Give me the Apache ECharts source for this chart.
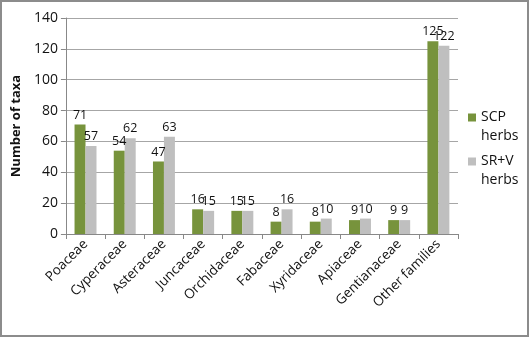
<!DOCTYPE html>
<html>
<head>
<meta charset="utf-8">
<script src="https://cdn.jsdelivr.net/npm/echarts@6/dist/echarts.min.js"></script>
<style>
  html, body { margin: 0; padding: 0; background: #fff; }
  #main { width: 525px; height: 333px; border: 2px solid #8c8c8c; }
</style>
</head>
<body>
<div id="main"></div>
<script>
var families = ['Poaceae', 'Cyperaceae', 'Asteraceae', 'Juncaceae', 'Orchidaceae',
  'Fabaceae', 'Xyridaceae', 'Apiaceae', 'Gentianaceae', 'Other families'];
var scpHerbs = [71, 54, 47, 16, 15, 8, 8, 9, 9, 125];
var srvHerbs = [57, 62, 63, 15, 15, 16, 10, 10, 9, 122];

var myChart = echarts.init(document.getElementById('main'));

var fontFam = '"Open Sans", "Noto Sans", sans-serif';

var option = {
  animation: false,
  backgroundColor: '#fff',
  grid: { left: 60, right: 69, top: 16, bottom: 101 },
  legend: {
    orient: 'vertical',
    left: 461,
    top: 82,
    itemWidth: 8,
    itemHeight: 8,
    itemGap: -13,
    icon: 'rect',
    textStyle: { fontFamily: fontFam, fontSize: 14, color: '#111', lineHeight: 19 },
    // leading blank line keeps the square level with the first text line
    formatter: function (name) { return '\n' + name.replace(' ', '\n'); },
    data: ['SCP herbs', 'SR+V herbs']
  },
  xAxis: {
    type: 'category',
    data: families,
    axisLine: { lineStyle: { color: '#888' } },
    axisTick: { show: true, lineStyle: { color: '#888' } },
    axisLabel: { rotate: 45, interval: 0, fontFamily: fontFam, fontSize: 13.5, color: '#111', margin: 8 }
  },
  yAxis: {
    type: 'value',
    min: 0,
    max: 140,
    interval: 20,
    name: 'Number of taxa',
    nameLocation: 'middle',
    nameGap: 40,
    nameTextStyle: { fontFamily: fontFam, fontSize: 13, fontWeight: 'bold', color: '#111' },
    axisLine: { show: true, lineStyle: { color: '#888' } },
    axisTick: { show: true, lineStyle: { color: '#888' } },
    axisLabel: { fontFamily: fontFam, fontSize: 14, color: '#111' },
    splitLine: { lineStyle: { color: '#a6a6a6' } }
  },
  series: [
    {
      name: 'SCP herbs',
      type: 'bar',
      data: scpHerbs,
      itemStyle: { color: '#77933C' },
      barGap: '0%',
      barCategoryGap: '44%',
      label: { show: true, position: 'top', fontFamily: fontFam, fontSize: 12.5, color: '#111', distance: 3 }
    },
    {
      name: 'SR+V herbs',
      type: 'bar',
      data: srvHerbs,
      itemStyle: { color: '#BFBFBF' },
      label: { show: true, position: 'top', fontFamily: fontFam, fontSize: 12.5, color: '#111', distance: 3 }
    }
  ]
};
myChart.setOption(option);
</script>
</body>
</html>
